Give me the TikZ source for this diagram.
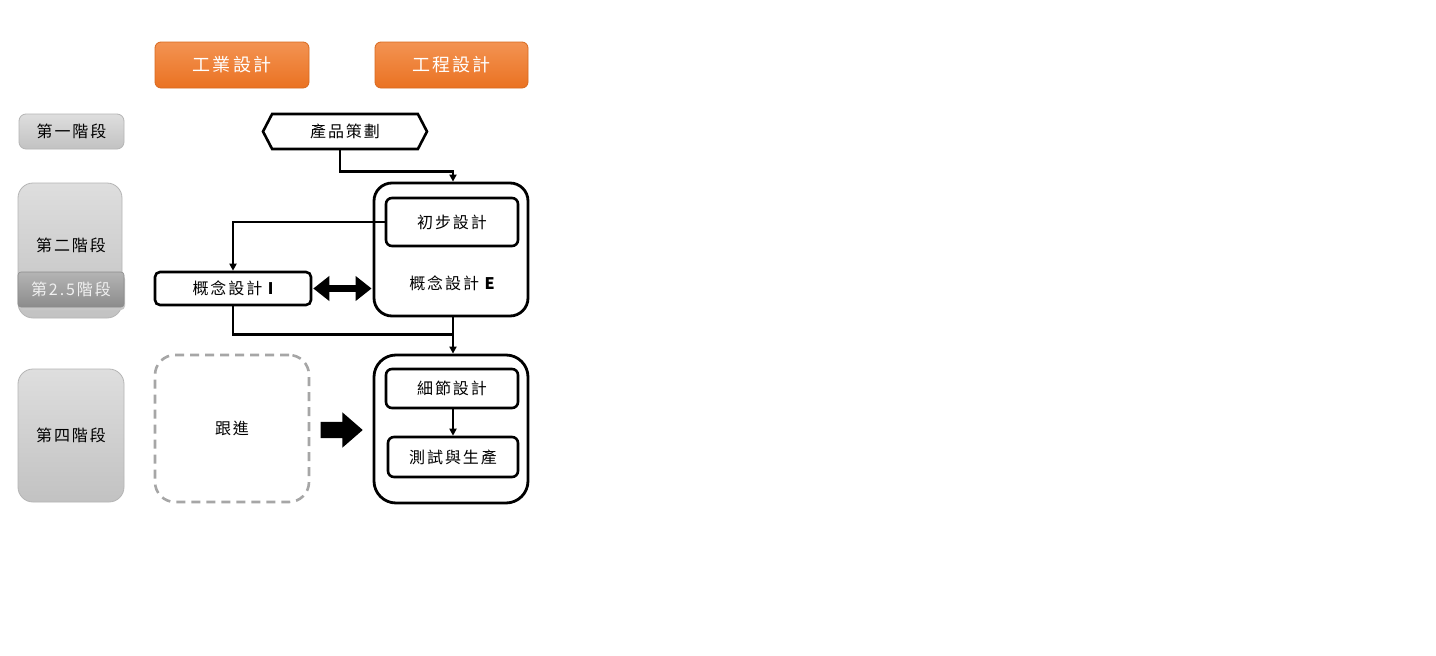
\documentclass[tikz,border=0pt]{standalone}
\usepackage{fontspec}
\newfontfamily\cjk[LetterSpace=12]{Noto Sans CJK TC}
\usetikzlibrary{shapes.symbols,shapes.arrows,arrows.meta,calc}
\definecolor{orA}{HTML}{F39352}
\definecolor{orB}{HTML}{EA7222}
\definecolor{orD}{HTML}{D8691F}
\definecolor{grA}{HTML}{DEDEDE}
\definecolor{grB}{HTML}{C2C2C2}
\definecolor{grD}{HTML}{B5B5B5}
\definecolor{bdA}{HTML}{B4B4B4}
\definecolor{bdB}{HTML}{8C8C8C}
\definecolor{dash}{HTML}{A6A6A6}
\tikzset{
  x=1pt, y=-1pt,
  every node/.style={font=\cjk\fontsize{16}{19}\selectfont, inner sep=0pt},
  orbox/.style={rounded corners=6pt, draw=orD, line width=0.8pt, top color=orA, bottom color=orB, text=white, font=\cjk\fontsize{18}{21}\selectfont},
  grbox/.style={rounded corners=7pt, draw=grD, line width=0.8pt, top color=grA, bottom color=grB},
  bigbox/.style={draw, line width=2.8pt, rounded corners=#1},
  bigbox/.default=18pt,
  inbox/.style={draw, line width=2.6pt, rounded corners=6pt},
  conn/.style={line width=2.4pt},
  tip/.style={-{Triangle[length=7pt,width=7pt]}}
}
\begin{document}
\begin{tikzpicture}
\useasboundingbox[fill=white] (0,0) rectangle (1436,656);
% header
\node[orbox, minimum width=154pt, minimum height=46pt] (ind) at (232,65) {工業設計};
\node[orbox, minimum width=153pt, minimum height=46pt] (eng) at (451.5,65) {工程設計};
% stage labels
\node[grbox, minimum width=105pt, minimum height=35pt] (s1) at (71.5,131.5) {第一階段};
\node[grbox, rounded corners=15pt, minimum width=104pt, minimum height=135pt] (s2) at (70,250.5) {};
\node at (71,245) (s2t) {第二階段};
\fill[black!22, rounded corners=4pt] (19,275) rectangle (125,310);
\node[draw=bdB, line width=0.6pt, rounded corners=3pt, top color=bdA, bottom color=bdB, minimum width=106pt, minimum height=35pt, text=white!94!black] (s25) at (71,289.5) {第2.5階段};
\node[grbox, rounded corners=15pt, minimum width=106pt, minimum height=133pt] (s4) at (71,435.5) {第四階段};
% product planning
\node[draw, line width=2.6pt, shape=signal, signal to=west and east, signal pointer angle=125, minimum width=164pt, minimum height=35pt] (pp) at (345,131.5) {產品策劃};
% stage two
\node[bigbox=18pt, minimum width=154pt, minimum height=133pt] (oe) at (451,249.5) {};
\node[inbox, minimum width=132pt, minimum height=48pt] (pre) at (452,222) {初步設計};
\node (cet) at (452,283) {概念設計 {\bfseries E}};
\node[inbox, rounded corners=5pt, minimum width=156pt, minimum height=33pt] (ci) at (233,288.5) {概念設計 {\bfseries I}};
% stage four
\node[draw=dash, dash pattern=on 9pt off 6pt, line width=2.6pt, rounded corners=20pt, minimum width=154pt, minimum height=147pt] (fu) at (232,428.5) {跟進};
\node[bigbox=22pt, minimum width=154pt, minimum height=148pt] (o2) at (451,429) {};
\node[inbox, minimum width=132pt, minimum height=39pt] (det) at (452,388.5) {細節設計};
\node[inbox, minimum width=130pt, minimum height=40pt] (tst) at (453,457) {測試與生產};
\node[single arrow, fill=black, minimum width=35pt, minimum height=42pt, inner sep=8pt, single arrow head extend=9.5pt, single arrow tip angle=82] (ba) at (337,430) {};
% connectors
\draw[conn, tip] ([xshift=-5pt]pp.south) -- ++(0,21) -| ([xshift=2pt]oe.north);
\draw[conn, tip] (pre.west) -| (ci.north);
\coordinate (j) at ([xshift=2pt, yshift=-17pt]oe.south);
\draw[conn, tip] ([xshift=2pt]oe.south) -- ([xshift=2pt]o2.north);
\draw[conn] (ci.south) |- (j);
\draw[conn, tip] ([xshift=1pt]det.south) -- (tst.north);
\draw[line width=7pt, {Triangle[length=16pt,width=24pt]}-{Triangle[length=16pt,width=24pt]}] ([xshift=1pt]ci.east) -- ([xshift=-1pt]oe.west |- ci.east);
\end{tikzpicture}
\end{document}
